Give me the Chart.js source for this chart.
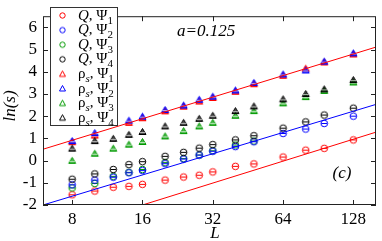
<!DOCTYPE html>
<html>
<head>
<meta charset="utf-8">
<script src="https://cdn.jsdelivr.net/npm/chart.js@4.4.0/dist/chart.umd.min.js"></script>
<style>
  html, body { margin: 0; padding: 0; background: #fff; }
</style>
</head>
<body>
<canvas id="scalingChart" width="382" height="241"></canvas>
<script>
// system sizes L
const sizes = [8, 10, 12, 14, 16, 20, 24, 28, 32, 40, 48, 64, 80, 96, 128];

// ln(s) from Q
const qPsi1 = [-1.54, -1.37, -1.20, -1.16, -1.07, -0.88, -0.74, -0.66, -0.51, -0.26, -0.15, 0.16, 0.47, 0.55, 0.93];
const qPsi2 = [-1.09, -0.88, -0.75, -0.55, -0.45, -0.14, 0.07, 0.25, 0.42, 0.63, 0.85, 1.22, 1.42, 1.67, 2.00];
const qPsi3 = [-1.23, -1.03, -0.71, -0.53, -0.40, -0.09, 0.09, 0.25, 0.44, 0.70, 0.88, null, null, null, null];
const qPsi4 = [-0.84, -0.60, -0.40, -0.18, -0.05, 0.19, 0.37, 0.56, 0.72, 0.93, 1.12, 1.46, 1.74, 2.05, 2.36];

// ln(s) from rho_s
const rhoPsi1 = [0.85, 1.15, null, 1.72, 1.93, 2.24, 2.45, 2.68, 2.84, 3.12, 3.46, 3.84, 4.16, 4.44, 4.80];
const rhoPsi2 = [0.90, 1.26, null, 1.82, 2.00, 2.30, 2.50, 2.76, 2.90, 3.18, 3.52, 3.90, 4.08, 4.48, 4.85];
const rhoPsi3 = [0.01, 0.33, 0.56, 0.74, 0.86, 1.11, 1.35, 1.56, 1.72, 2.04, 2.25, 2.60, 2.88, 3.16, 3.54];
const rhoPsi4 = [0.56, 0.90, 1.00, 1.18, 1.31, 1.56, 1.72, 1.90, 2.04, 2.25, 2.46, 2.78, 3.02, 3.23, 3.65];

// fit lines, [L, ln(s)] end points
const fitUpper = [[6, 0.51], [160, 5.11]];
const fitMiddle = [[6, -2.0], [160, 2.53]];
const fitLower = [[16, -2.0], [160, 1.28]];

const xTicks = [8, 16, 32, 64, 128];
const yTicks = [-2, -1, 0, 1, 2, 3, 4, 5, 6];

const RED = '#ff0000', BLUE = '#0000ff', GREEN = '#009a00', BLACK = '#000000';
const SERIF = '"Liberation Serif", "DejaVu Serif", serif';

// marker images: circle with a bar, triangle half filled
function makeMarker(shape, color, plain) {
    const c = document.createElement('canvas');
    c.width = 11; c.height = 11;
    const g = c.getContext('2d');
    g.strokeStyle = color;
    g.lineWidth = 1;
    if (shape === 'circle') {
        g.beginPath();
        g.arc(5.5, 5.5, plain ? 2.7 : 3.3, 0, Math.PI * 2);
        g.stroke();
        if (!plain) {
            g.beginPath();
            g.moveTo(2.5, 5.5); g.lineTo(8.5, 5.5);
            g.stroke();
        }
    } else {
        g.beginPath();
        if (plain) {
            g.moveTo(5.5, 2.5); g.lineTo(2.5, 8); g.lineTo(8.5, 8);
        } else {
            g.moveTo(5.5, 2.5); g.lineTo(2, 8.5); g.lineTo(9, 8.5);
        }
        g.closePath();
        if (!plain) {
            g.fillStyle = color;
            g.globalAlpha = 0.7;
            g.fill();
            g.globalAlpha = 1;
        }
        g.stroke();
        if (!plain) {
            g.beginPath();
            g.moveTo(3, 6.5); g.lineTo(8, 6.5);
            g.strokeStyle = 'rgba(255,255,255,0.6)';
            g.stroke();
        }
    }
    return c;
}

function toPoints(values) {
    const pts = [];
    values.forEach(function(v, i) {
        if (v !== null) pts.push({ x: sizes[i], y: v });
    });
    return pts;
}

function pairsToPoints(pairs) {
    return pairs.map(function(p) { return { x: p[0], y: p[1] }; });
}

const series = [
    { label: 'Q1', values: qPsi1, shape: 'circle', color: RED, order: 8 },
    { label: 'Q2', values: qPsi2, shape: 'circle', color: BLUE, order: 6 },
    { label: 'Q3', values: qPsi3, shape: 'circle', color: GREEN, order: 7 },
    { label: 'Q4', values: qPsi4, shape: 'circle', color: BLACK, order: 5 },
    { label: 'R1', values: rhoPsi1, shape: 'triangle', color: RED, order: 4 },
    { label: 'R2', values: rhoPsi2, shape: 'triangle', color: BLUE, order: 2 },
    { label: 'R3', values: rhoPsi3, shape: 'triangle', color: GREEN, order: 3 },
    { label: 'R4', values: rhoPsi4, shape: 'triangle', color: BLACK, order: 1 }
];

const datasets = series.map(function(s) {
    return {
        label: s.label,
        data: toPoints(s.values),
        pointStyle: makeMarker(s.shape, s.color, false),
        pointRadius: 5,
        showLine: false,
        order: s.order
    };
});

[[fitUpper, RED], [fitMiddle, BLUE], [fitLower, RED]].forEach(function(f) {
    datasets.push({
        data: pairsToPoints(f[0]),
        showLine: true,
        borderColor: f[1],
        borderWidth: 1,
        pointRadius: 0,
        order: 0
    });
});

// draw text pieces with italics and subscripts
function drawPieces(ctx, x, y, pieces) {
    pieces.forEach(function(p) {
        const size = p.sub ? 11 : 15;
        ctx.font = (p.italic ? 'italic ' : '') + size + 'px ' + SERIF;
        ctx.fillText(p.t, x, y + (p.sub ? 4 : 0));
        x += ctx.measureText(p.t).width;
    });
}

const framePlugin = {
    id: 'frame',
    afterDraw: function(chart) {
        const ctx = chart.ctx;
        const a = chart.chartArea;
        const xs = chart.scales.x, ys = chart.scales.y;
        ctx.save();
        ctx.strokeStyle = '#222';
        ctx.lineWidth = 1;
        ctx.strokeRect(a.left + 0.5, a.top + 0.5, a.right - a.left - 1, a.bottom - a.top - 1);

        // inward ticks on all four sides
        ctx.beginPath();
        xTicks.forEach(function(v) {
            const px = Math.round(xs.getPixelForValue(v)) + 0.5;
            ctx.moveTo(px, a.bottom); ctx.lineTo(px, a.bottom - 5);
            ctx.moveTo(px, a.top); ctx.lineTo(px, a.top + 5);
        });
        yTicks.forEach(function(v) {
            const py = Math.round(ys.getPixelForValue(v)) + 0.5;
            ctx.moveTo(a.left, py); ctx.lineTo(a.left + 5, py);
            ctx.moveTo(a.right, py); ctx.lineTo(a.right - 5, py);
        });
        ctx.stroke();

        // axis titles and notes
        ctx.fillStyle = '#000';
        ctx.textBaseline = 'middle';
        ctx.textAlign = 'center';
        ctx.font = 'italic 17px ' + SERIF;
        ctx.fillText('L', 215, 234);
        ctx.fillText('(c)', 342, 174);
        ctx.textAlign = 'left';
        ctx.fillText('a=0.125', 177, 32);
        ctx.save();
        ctx.translate(11, 106);
        ctx.rotate(-Math.PI / 2);
        ctx.textAlign = 'center';
        ctx.fillText('ln(s)', 0, 0);
        ctx.restore();

        // legend box
        ctx.fillStyle = '#fff';
        ctx.fillRect(50, 7, 67, 118);
        ctx.strokeStyle = '#333';
        ctx.strokeRect(50.5, 7.5, 67, 118);
        ctx.fillStyle = '#000';
        ctx.textAlign = 'left';
        ctx.textBaseline = 'alphabetic';
        series.forEach(function(s, i) {
            const cy = 15.5 + i * 14.6;
            ctx.drawImage(makeMarker(s.shape, s.color, true), 57, cy - 5.5);
            const n = String((i % 4) + 1);
            const pieces = i < 4
                ? [{ t: 'Q', italic: true }, { t: ', Ψ' }, { t: n, sub: true }]
                : [{ t: 'ρ' }, { t: 's', italic: true, sub: true }, { t: ', Ψ' }, { t: n, sub: true }];
            drawPieces(ctx, 78, cy + 4, pieces);
        });
        ctx.restore();
    }
};

new Chart(document.getElementById('scalingChart'), {
    type: 'scatter',
    data: { datasets: datasets },
    options: {
        responsive: false,
        animation: false,
        devicePixelRatio: 1,
        layout: { padding: { top: 2, right: 2, left: 0, bottom: 0 } },
        plugins: {
            legend: { display: false },
            tooltip: { enabled: false }
        },
        scales: {
            x: {
                type: 'logarithmic',
                min: 6,
                max: 160,
                afterBuildTicks: function(s) {
                    s.ticks = xTicks.map(function(v) { return { value: v }; });
                },
                afterFit: function(s) { s.height = 36; },
                grid: { display: false, drawTicks: false },
                border: { display: false },
                ticks: {
                    color: '#000',
                    padding: 4,
                    maxRotation: 0,
                    font: { family: SERIF, size: 17 },
                    callback: function(v) { return String(v); }
                }
            },
            y: {
                min: -2,
                max: 6.5,
                afterBuildTicks: function(s) {
                    s.ticks = yTicks.map(function(v) { return { value: v }; });
                },
                afterFit: function(s) { s.width = 43; },
                grid: { display: false, drawTicks: false },
                border: { display: false },
                ticks: {
                    color: '#000',
                    padding: 6,
                    font: { family: SERIF, size: 17 }
                }
            }
        }
    },
    plugins: [framePlugin]
});
</script>
</body>
</html>
